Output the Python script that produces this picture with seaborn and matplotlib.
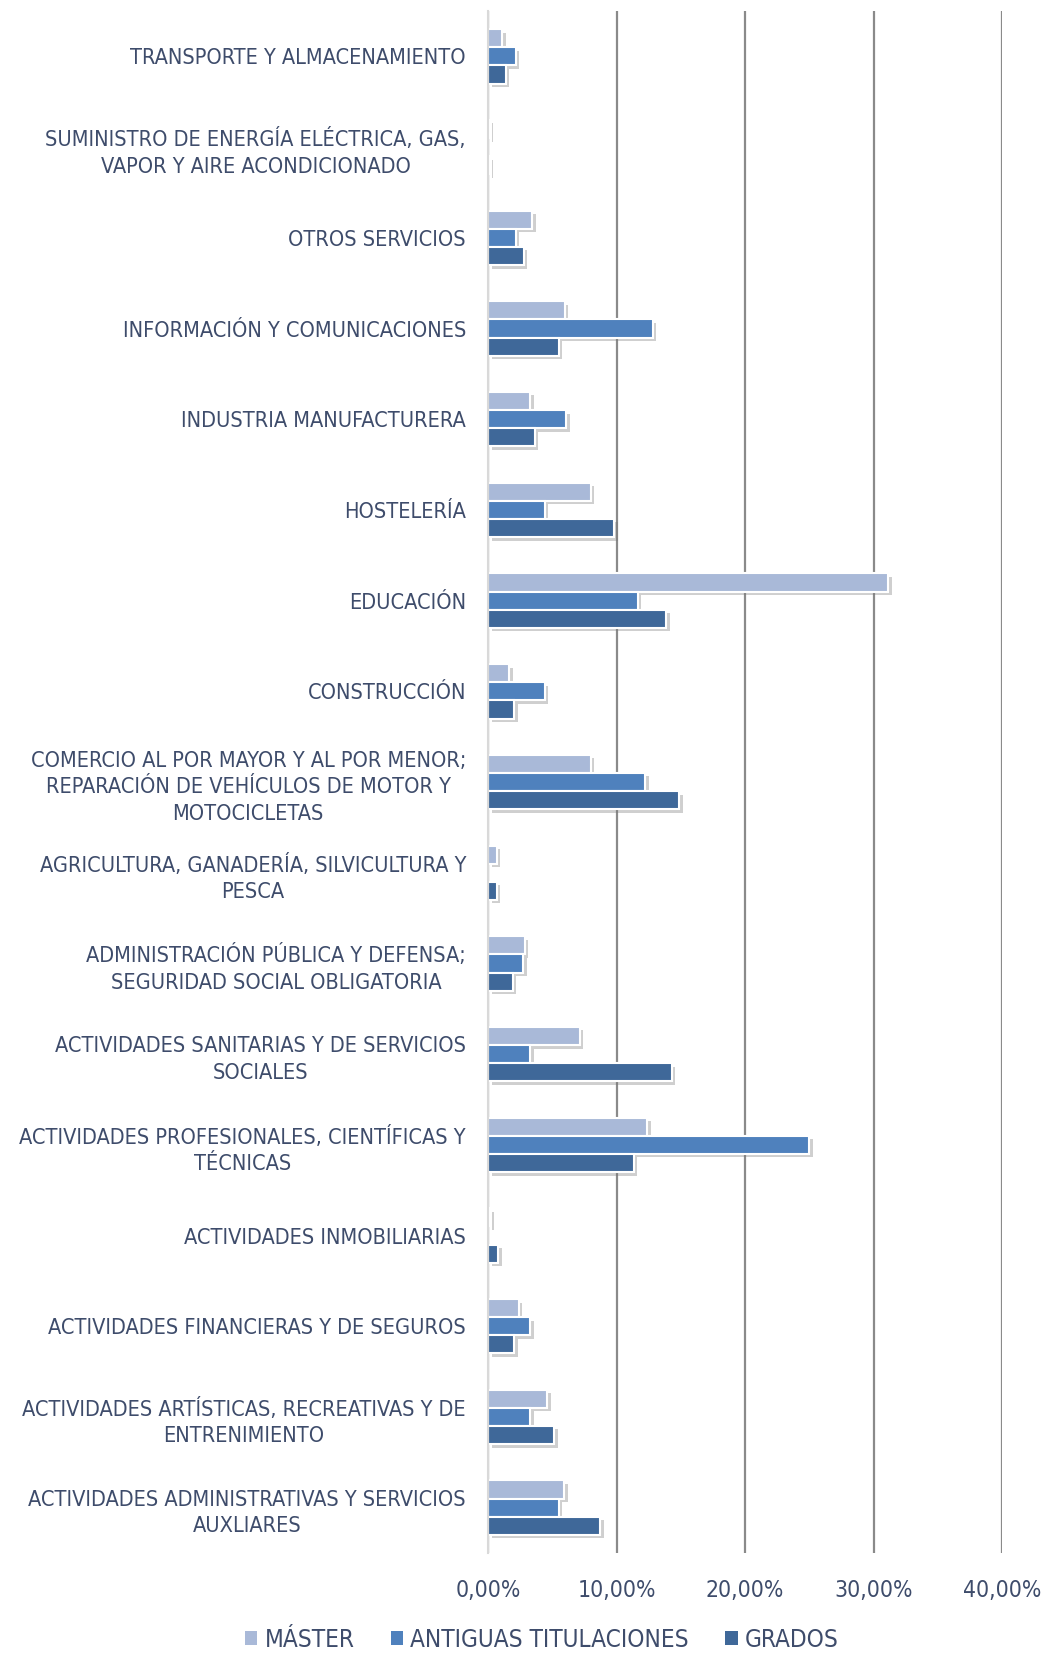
import pandas as pd
import matplotlib
matplotlib.use('Agg')
import matplotlib.pyplot as plt
import matplotlib.patheffects as pe
from matplotlib import font_manager as fm
from matplotlib.ticker import FuncFormatter
import seaborn as sns

sns.set_style('white')
plt.rcParams['font.family'] = ['Liberation Sans', 'DejaVu Sans']

# datos (porcentaje)
sectores = [
    'TRANSPORTE Y ALMACENAMIENTO',
    'SUMINISTRO DE ENERGÍA ELÉCTRICA, GAS,\nVAPOR Y AIRE ACONDICIONADO',
    'OTROS SERVICIOS',
    'INFORMACIÓN Y COMUNICACIONES',
    'INDUSTRIA MANUFACTURERA',
    'HOSTELERÍA',
    'EDUCACIÓN',
    'CONSTRUCCIÓN',
    'COMERCIO AL POR MAYOR Y AL POR MENOR;\nREPARACIÓN DE VEHÍCULOS DE MOTOR Y\nMOTOCICLETAS',
    'AGRICULTURA, GANADERÍA, SILVICULTURA Y\nPESCA',
    'ADMINISTRACIÓN PÚBLICA Y DEFENSA;\nSEGURIDAD SOCIAL OBLIGATORIA',
    'ACTIVIDADES SANITARIAS Y DE SERVICIOS\nSOCIALES',
    'ACTIVIDADES PROFESIONALES, CIENTÍFICAS Y\nTÉCNICAS',
    'ACTIVIDADES INMOBILIARIAS',
    'ACTIVIDADES FINANCIERAS Y DE SEGUROS',
    'ACTIVIDADES ARTÍSTICAS, RECREATIVAS Y DE\nENTRENIMIENTO',
    'ACTIVIDADES ADMINISTRATIVAS Y SERVICIOS\nAUXLIARES',
]
master = [1.09, 0.13, 3.43, 5.95, 3.27, 8.00, 31.15, 1.64, 8.00, 0.65, 2.86, 7.12, 12.38, 0.17, 2.38, 4.59, 5.92]
antiguas = [2.16, 0.0, 2.16, 12.80, 6.08, 4.39, 11.66, 4.39, 12.23, 0.0, 2.73, 3.27, 25.00, 0.0, 3.29, 3.29, 5.50]
grados = [1.35, 0.13, 2.75, 5.50, 3.64, 9.82, 13.87, 2.03, 14.86, 0.65, 1.90, 14.30, 11.33, 0.79, 2.04, 5.16, 8.73]

series = ['MÁSTER', 'ANTIGUAS TITULACIONES', 'GRADOS']
colores = {'MÁSTER': '#A9B9D8', 'ANTIGUAS TITULACIONES': '#4F81BD', 'GRADOS': '#3F6899'}
texto = '#3E4C6B'

# buscar una fuente estrecha (tipo Arial Narrow) si hay alguna instalada
estrecha = None
for clave in ['liberationsansnarrow-regular', 'dejavusanscondensed.ttf', 'condensed-regular', 'narrow']:
    for f in fm.fontManager.ttflist:
        nombre = f.fname.lower()
        if clave in nombre.replace(' ', '') and 'bold' not in nombre and 'italic' not in nombre and 'oblique' not in nombre:
            estrecha = f.fname
            break
    if estrecha:
        break

if estrecha:
    fuente = fm.FontProperties(fname=estrecha, size=15.6)
    fuente_x = fm.FontProperties(fname=estrecha, size=16.5)
    fuente_ley = fm.FontProperties(fname=estrecha, size=17.5)
else:
    fuente = fm.FontProperties(family='Liberation Sans', size=14)
    fuente_x = fm.FontProperties(family='Liberation Sans', size=14)
    fuente_ley = fm.FontProperties(family='Liberation Sans', size=15)

df = pd.DataFrame({'sector': sectores * 3,
                   'serie': [s for s in series for _ in sectores],
                   'valor': master + antiguas + grados})

fig, ax = plt.subplots(figsize=(10.42, 16.53), dpi=100)
fig.subplots_adjust(left=0.4685, right=0.9616, top=0.9933, bottom=0.0605)

sns.barplot(data=df, x='valor', y='sector', hue='serie', order=sectores, hue_order=series,
            palette=colores, orient='h', width=0.6, ax=ax,
            edgecolor='white', linewidth=1.5, saturation=1)

# sombra de las barras
for p in ax.patches:
    p.set_path_effects([pe.SimplePatchShadow(offset=(2.5, -2.5), shadow_rgbFace='#777777', alpha=0.35),
                        pe.Normal()])

ax.set_xlim(0, 40)
ax.set_xticks([0, 10, 20, 30, 40])
ax.xaxis.set_major_formatter(FuncFormatter(lambda v, _: f'{v:.2f}%'.replace('.', ',')))
ax.xaxis.grid(True, color='#8A8A8A', linewidth=1.6)
ax.set_axisbelow(True)
ax.set_xlabel('')
ax.set_ylabel('')
for s in ['top', 'right', 'bottom']:
    ax.spines[s].set_visible(False)
ax.spines['left'].set_color('#D9D9D9')
ax.spines['left'].set_linewidth(1.5)
ax.tick_params(axis='both', length=0, colors=texto)
ax.tick_params(axis='x', pad=19)
ax.tick_params(axis='y', pad=16)
for lab in ax.get_xticklabels():
    lab.set_fontproperties(fuente_x)
for lab in ax.get_yticklabels():
    lab.set_fontproperties(fuente)
    lab.set_multialignment('center')
    lab.set_linespacing(1.4)

handles, labels = ax.get_legend_handles_labels()
ax.get_legend().remove()
ley = fig.legend(handles, labels, loc='center', bbox_to_anchor=(0.52, 0.008), ncol=3,
                 frameon=False, prop=fuente_ley, labelcolor=texto, handlelength=0.5, handleheight=0.5,
                 handletextpad=0.3, columnspacing=1.5)
for h in ley.legend_handles:
    h.set_path_effects([])
    h.set_edgecolor('none')

plt.savefig('out.png', dpi=100)
